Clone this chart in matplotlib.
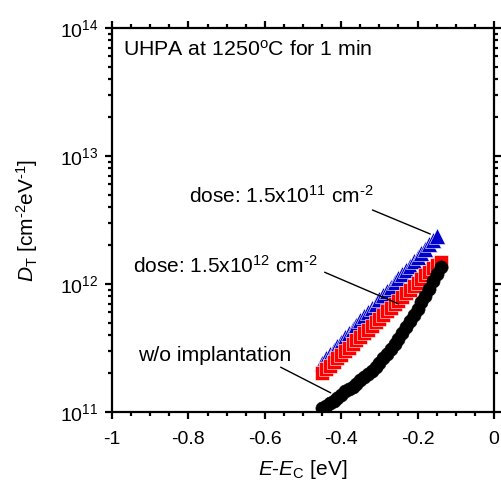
import matplotlib
matplotlib.use("Agg")
import matplotlib.pyplot as plt
from matplotlib.ticker import MultipleLocator, LogLocator, NullFormatter

plt.rcParams['font.family'] = ['Liberation Sans', 'DejaVu Sans']
plt.rcParams['mathtext.fontset'] = 'custom'
plt.rcParams['mathtext.rm'] = 'Liberation Sans'
plt.rcParams['mathtext.it'] = 'Liberation Sans:italic'
plt.rcParams['mathtext.bf'] = 'Liberation Sans:bold'
plt.rcParams['axes.unicode_minus'] = False

# Data
e_black = [-0.45, -0.44, -0.43, -0.42, -0.41, -0.40, -0.39, -0.38, -0.37, -0.36,
           -0.35, -0.34, -0.33, -0.32, -0.31, -0.30, -0.29, -0.28, -0.27, -0.26,
           -0.25, -0.24, -0.23, -0.22, -0.21, -0.20, -0.19, -0.18, -0.17, -0.16,
           -0.15, -0.14]
dt_black = [1.07e11, 1.12e11, 1.17e11, 1.22e11, 1.28e11, 1.35e11, 1.45e11, 1.52e11,
            1.58e11, 1.66e11, 1.78e11, 1.88e11, 1.98e11, 2.10e11, 2.25e11, 2.42e11,
            2.62e11, 2.85e11, 3.10e11, 3.40e11, 3.75e11, 4.15e11, 4.60e11, 5.10e11,
            5.70e11, 6.40e11, 7.20e11, 8.10e11, 9.20e11, 1.05e12, 1.20e12, 1.36e12]

e_red = [-0.45, -0.44, -0.43, -0.42, -0.41, -0.40, -0.39, -0.38, -0.37, -0.36,
         -0.35, -0.34, -0.33, -0.32, -0.31, -0.30, -0.29, -0.28, -0.27, -0.26,
         -0.25, -0.24, -0.23, -0.22, -0.21, -0.20, -0.19, -0.18, -0.17, -0.16,
         -0.15, -0.14]
dt_red = [2.02e11, 2.15e11, 2.30e11, 2.45e11, 2.62e11, 2.80e11, 2.98e11, 3.18e11,
          3.40e11, 3.62e11, 3.87e11, 4.13e11, 4.40e11, 4.70e11, 5.02e11, 5.35e11,
          5.72e11, 6.10e11, 6.50e11, 6.95e11, 7.42e11, 7.90e11, 8.45e11, 9.00e11,
          9.60e11, 1.025e12, 1.09e12, 1.17e12, 1.24e12, 1.33e12, 1.41e12, 1.48e12]

e_blue = [-0.45, -0.44, -0.43, -0.42, -0.41, -0.40, -0.39, -0.38, -0.37, -0.36,
          -0.35, -0.34, -0.33, -0.32, -0.31, -0.30, -0.29, -0.28, -0.27, -0.26,
          -0.25, -0.24, -0.23, -0.22, -0.21, -0.20, -0.19, -0.18, -0.17, -0.16,
          -0.15]
dt_blue = [2.43e11, 2.62e11, 2.83e11, 3.05e11, 3.29e11, 3.55e11, 3.83e11, 4.13e11,
           4.46e11, 4.81e11, 5.19e11, 5.60e11, 6.04e11, 6.52e11, 7.03e11, 7.59e11,
           8.19e11, 8.83e11, 9.53e11, 1.03e12, 1.11e12, 1.20e12, 1.29e12, 1.39e12,
           1.50e12, 1.62e12, 1.75e12, 1.89e12, 2.04e12, 2.20e12, 2.37e12]

fig = plt.figure(figsize=(5.02, 4.86), dpi=100)
ax = fig.add_axes([112 / 502, 74 / 486, 382 / 502, 384 / 486])

ax.plot(e_blue, dt_blue, '^', color='#0000cc', ms=11, mec='white', mew=0.4, ls='none')
ax.plot(e_red, dt_red, 's', color='#ff0000', ms=9.5, mec='white', mew=0.4, ls='none')
ax.plot(e_black, dt_black, 'o', color='black', ms=9.5, mec='black', mew=0.4, ls='none')

ax.set_yscale('log')
ax.set_xlim(-1, 0)
ax.set_ylim(1e11, 1e14)

ax.xaxis.set_major_locator(MultipleLocator(0.2))
ax.xaxis.set_minor_locator(MultipleLocator(0.05))
ax.xaxis.set_major_formatter(plt.FuncFormatter(lambda v, p: f"{round(v, 2) + 0:g}"))
ax.yaxis.set_minor_locator(LogLocator(base=10, subs=range(2, 10)))
ax.yaxis.set_minor_formatter(NullFormatter())

for s in ax.spines.values():
    s.set_linewidth(1.6)
ax.tick_params(which='both', direction='out', top=True, right=True, width=1.6,
               labelsize=14)
ax.tick_params(which='major', length=5)
ax.tick_params(which='minor', length=3)
ax.tick_params(axis='x', pad=9)
ax.tick_params(axis='y', pad=5)

ax.set_xlabel('$E$-$E_{\\mathrm{C}}$ [eV]', fontsize=15, labelpad=7)
ax.set_ylabel('$D_{\\mathrm{T}}$ [cm$^{\\text{-2}}$eV$^{\\text{-1}}$]', fontsize=15, labelpad=14)

ax.text(0.029, 0.927, 'UHPA at 1250$^{\\mathrm{o}}$C for 1 min', transform=ax.transAxes,
        fontsize=15.3, ha='left', va='baseline')

# annotations
ax.text(-0.798, 4.3e12, 'dose: 1.5x10$^{11}$ cm$^{\\text{-2}}$', fontsize=15, ha='left', va='baseline')
ax.annotate('', xy=(-0.160, 2.41e12), xytext=(-0.325, 3.86e12),
            arrowprops=dict(arrowstyle='-', lw=1, color='black'))

ax.text(-0.945, 1.22e12, 'dose: 1.5x10$^{12}$ cm$^{\\text{-2}}$', fontsize=15, ha='left', va='baseline')
ax.annotate('', xy=(-0.243, 6.85e11), xytext=(-0.450, 1.26e12),
            arrowprops=dict(arrowstyle='-', lw=1, color='black'))

ax.text(-0.932, 2.5e11, 'w/o implantation', fontsize=15.3, ha='left', va='baseline')
ax.annotate('', xy=(-0.421, 1.38e11), xytext=(-0.565, 2.29e11),
            arrowprops=dict(arrowstyle='-', lw=1, color='black'))

fig.savefig('out.png', dpi=100)
